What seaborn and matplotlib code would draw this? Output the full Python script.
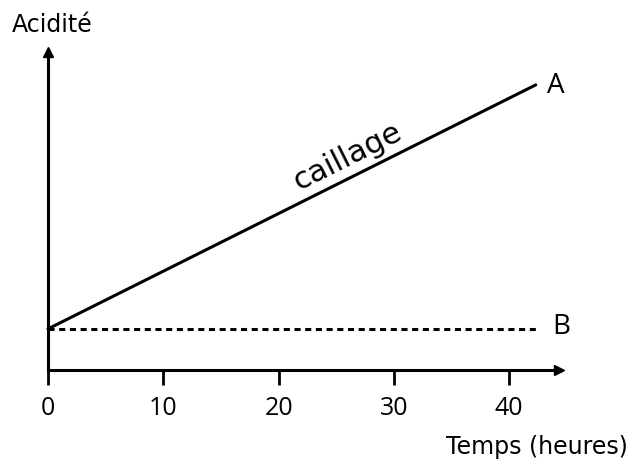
import matplotlib
matplotlib.use("Agg")
import matplotlib.pyplot as plt
import seaborn as sns
import pandas as pd

# Acidity of milk over time: A curdles (caillage), B stays constant
temps = [0, 42.3]
acidite_A = [1.0, 6.95]
acidite_B = [1.0, 1.0]
ticks = [0, 10, 20, 30, 40]
tick_labels = ["0", "10", "20", "30", "40"]

sns.set_theme(style="white")
plt.rcParams["font.family"] = ["DejaVu Sans"]
plt.rcParams["text.color"] = "black"
plt.rcParams["xtick.color"] = "black"
plt.rcParams["xtick.labelcolor"] = "black"

df_A = pd.DataFrame({"temps": temps, "acidite": acidite_A})
df_B = pd.DataFrame({"temps": temps, "acidite": acidite_B})

fig = plt.figure(figsize=(6.31, 4.63), dpi=100)
ax = fig.add_axes([0, 0, 1, 1])
ax.set_xlim(-4.16, 50.56)
ax.set_ylim(-2.27, 9.02)

sns.lineplot(data=df_A, x="temps", y="acidite", ax=ax, color="black", lw=2.2)
sns.lineplot(data=df_B, x="temps", y="acidite", ax=ax, color="black", lw=2.2,
             linestyle=(0, (2.0, 1.5)))

# Axes drawn as arrows crossing at the origin
for s in ["top", "right"]:
    ax.spines[s].set_visible(False)
ax.spines["left"].set_position(("data", 0))
ax.spines["bottom"].set_position(("data", 0))
ax.spines["left"].set_bounds(0, 7.6)
ax.spines["bottom"].set_bounds(0, 44.0)
for s in ["left", "bottom"]:
    ax.spines[s].set_color("black")
    ax.spines[s].set_linewidth(2.2)
ax.plot(44.3, 0, ">", color="black", ms=7, clip_on=False)
ax.plot(0, 7.75, "^", color="black", ms=7, clip_on=False)

ax.set_xticks(ticks)
ax.set_xticklabels(tick_labels, fontsize=18, color="black",
                   family=["Open Sans", "DejaVu Sans"])
ax.set_yticks([])
ax.tick_params(axis="x", direction="out", length=10.5, width=2.0, color="black",
               pad=8, bottom=True)
ax.set_xlabel("")
ax.set_ylabel("")

ax.text(-3.12, 8.24, "Acidité", fontsize=17, ha="left", va="baseline", color="black")
ax.text(50.3, -2.05, "Temps (heures)", fontsize=17, ha="right", va="baseline",
        color="black")
ax.text(43.3, 6.76, "A", fontsize=20, ha="left", va="baseline", color="black",
        family=["Liberation Sans Narrow", "Open Sans", "DejaVu Sans"])
ax.text(43.7, 0.88, "B", fontsize=20, ha="left", va="baseline", color="black",
        family=["Liberation Sans Narrow", "Open Sans", "DejaVu Sans"])
ax.text(26.0, 5.2, "caillage", fontsize=22, ha="center", va="center",
        rotation=26.6, rotation_mode="anchor", color="black")

fig.savefig("out.png", dpi=100)
